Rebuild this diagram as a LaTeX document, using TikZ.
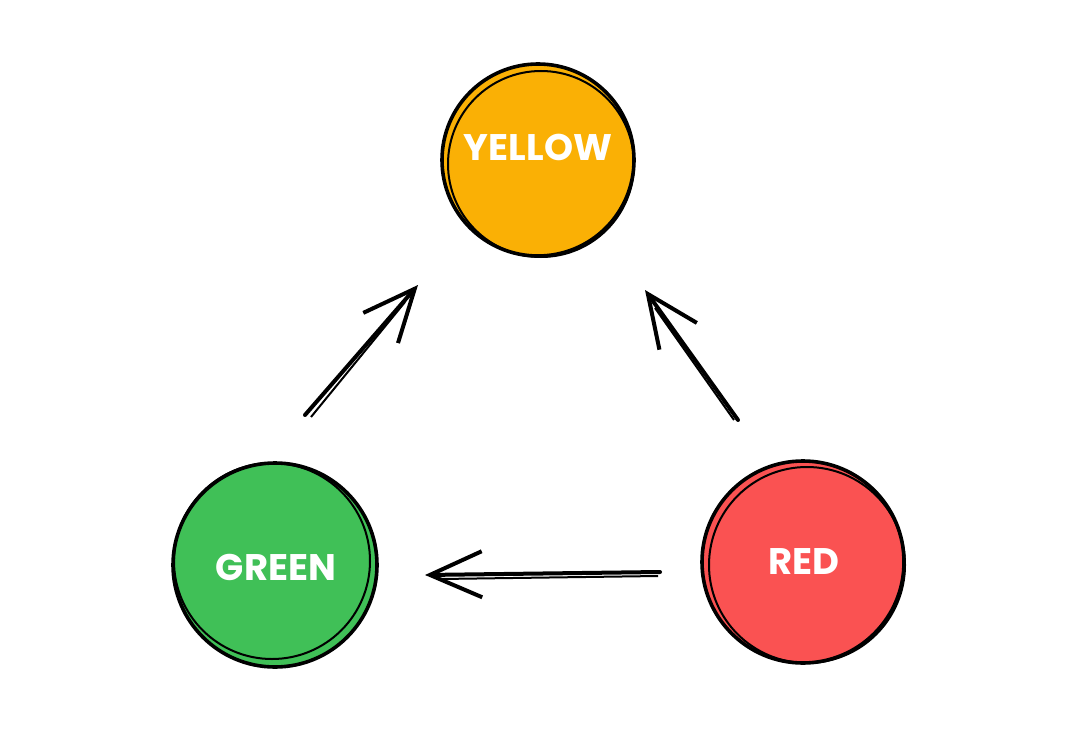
\documentclass[tikz,border=0pt]{standalone}
\usepackage{fontspec}
\setmainfont{Poppins}
\usetikzlibrary{arrows.meta}
\definecolor{lampyellow}{HTML}{FAB005}
\definecolor{lampgreen}{HTML}{40C057}
\definecolor{lampred}{HTML}{FA5252}

\begin{document}
\begin{tikzpicture}[x=1pt,y=-1pt,
  lamp/.style={circle,draw=black,line width=3.6pt,inner sep=0pt},
  lamptext/.style={text=white,font=\bfseries\fontsize{37}{37}\selectfont},
  sketch/.style={draw=black,line width=2pt},
  arr/.style={line width=4pt,line cap=round,-{Straight Barb[length=52pt,width=46pt,line width=4pt]}}]
\useasboundingbox (0,0) rectangle (1067,746);
%\draw [help lines,step=100] (0,0) grid (1067,746);
\node[lamp,fill=lampyellow,minimum size=192pt] (yellow) at (538,160) {}; \draw[sketch] ([shift={(3,4)}]yellow.center) circle (93pt);
\node[lamp,fill=lampgreen,minimum size=204pt] (green) at (275,565) {}; \draw[sketch] ([shift={(-3,-4)}]green.center) circle (98pt);
\node[lamp,fill=lampred,minimum size=202pt] (red) at (803,562) {}; \draw[sketch] ([shift={(4,3)}]red.center) circle (98pt);
\node[lamptext] (ytext) at (538,147) {YELLOW}; \node[lamptext] (gtext) at (276,567) {GREEN}; \node[lamptext] (rtext) at (804,562) {RED};
\coordinate (gy1) at (305,415); \coordinate (gy2) at (418,285); \draw[arr] (gy1) -- (gy2); \draw[sketch] (311,417) -- (405,302);
\coordinate (ry1) at (738,420); \coordinate (ry2) at (645,290); \draw[arr] (ry1) -- (ry2); \draw[sketch] (734,420) -- (655,308);
\coordinate (rg1) at (660,572); \coordinate (rg2) at (425,575); \draw[arr] (rg1) -- (rg2); \draw[sketch] (658,576) -- (440,579);
\end{tikzpicture}
\end{document}
